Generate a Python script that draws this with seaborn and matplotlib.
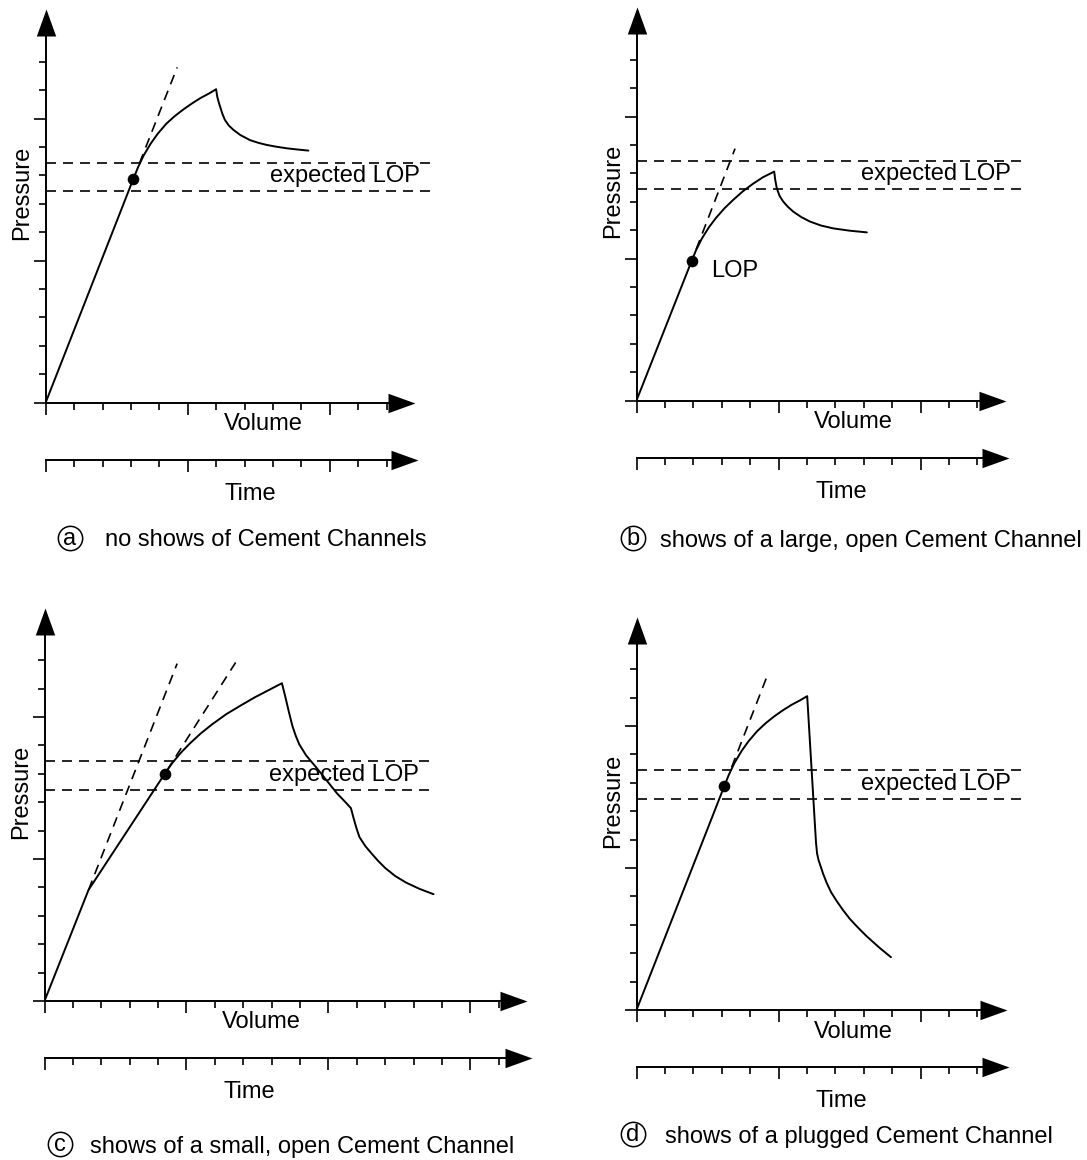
import numpy as np
import matplotlib
matplotlib.use("Agg")
import matplotlib.pyplot as plt
from matplotlib.lines import Line2D
import seaborn as sns

# ---------------------------------------------------------------------------
# Pressure-versus-volume curves (grid units: 1 unit = one tick step)
# ---------------------------------------------------------------------------
# (a) no shows of cement channels
A_CURVE_X = [0, 3.08, 3.25, 3.45, 3.7, 3.95, 4.25, 4.55, 4.85, 5.15, 5.45, 5.75, 6.0,
             6.04, 6.09, 6.14, 6.22, 6.31, 6.45, 6.61, 6.85, 7.19, 7.5, 7.78, 8.1, 8.49, 8.85, 9.25]
A_CURVE_Y = [0, 7.86, 8.28, 8.7, 9.12, 9.47, 9.82, 10.09, 10.32, 10.53, 10.72, 10.88, 11.03,
             10.77, 10.58, 10.42, 10.17, 9.95, 9.75, 9.6, 9.42, 9.24, 9.14, 9.07, 9.01, 8.95, 8.91, 8.87]
A_TANGENT_X = [3.3, 4.63]
A_TANGENT_Y = [8.42, 11.80]
A_LOP = [3.08, 7.86]

# (b) large, open cement channel
B_CURVE_X = [0, 1.94, 2.1, 2.3, 2.55, 2.8, 3.1, 3.4, 3.75, 4.1, 4.45, 4.85,
             4.88, 4.94, 5.04, 5.17, 5.33, 5.52, 5.8, 6.11, 6.5, 6.93, 7.5, 8.11]
B_CURVE_Y = [0, 4.91, 5.3, 5.7, 6.1, 6.43, 6.77, 7.06, 7.37, 7.63, 7.86, 8.06,
             7.8, 7.47, 7.2, 7.0, 6.82, 6.65, 6.46, 6.3, 6.16, 6.06, 5.98, 5.92]
B_TANGENT_X = [2.1, 3.47]
B_TANGENT_Y = [5.32, 8.87]
B_LOP = [1.94, 4.91]

# (c) small, open cement channel
C_CURVE_X = [0, 1.55, 4.24, 4.5, 4.8, 5.1, 5.5, 5.9, 6.4, 6.9, 7.4, 7.9, 8.36,
             8.42, 8.48, 8.6, 8.73, 8.85, 8.97, 9.21, 9.58, 9.94, 10.3, 10.55, 10.79,
             10.88, 10.98, 11.09, 11.3, 11.52, 11.75, 12.0, 12.35, 12.73, 13.2, 13.7]
C_CURVE_Y = [0, 3.91, 8.01, 8.38, 8.74, 9.05, 9.42, 9.74, 10.1, 10.4, 10.69, 10.95, 11.19,
             10.95, 10.71, 10.2, 9.68, 9.33, 9.04, 8.65, 8.21, 7.76, 7.31, 7.05, 6.79,
             6.45, 6.1, 5.77, 5.45, 5.19, 4.93, 4.68, 4.4, 4.17, 3.95, 3.76]
C_TANGENT1_X = [1.55, 4.67]
C_TANGENT1_Y = [3.91, 11.88]
C_TANGENT2_X = [4.3, 6.73]
C_TANGENT2_Y = [8.1, 11.92]
C_LOP = [4.24, 8.01]

# (d) plugged cement channel
D_CURVE_X = [0, 3.09, 3.25, 3.45, 3.7, 3.95, 4.25, 4.55, 4.85, 5.15, 5.45, 5.75, 6.01,
             6.32, 6.36, 6.41, 6.46, 6.57, 6.69, 6.85, 7.04, 7.27, 7.51, 7.8, 8.1, 8.57, 8.96]
D_CURVE_Y = [0, 7.88, 8.28, 8.7, 9.12, 9.47, 9.82, 10.1, 10.34, 10.55, 10.74, 10.9, 11.05,
             5.9, 5.5, 5.28, 5.13, 4.8, 4.49, 4.15, 3.85, 3.52, 3.21, 2.9, 2.6, 2.18, 1.86]
D_TANGENT_X = [3.35, 4.64]
D_TANGENT_Y = [8.55, 11.86]
D_LOP = [3.09, 7.88]

# expected leak-off pressure band (lower, upper) and its extent along volume
LOP_BAND = [7.44, 8.44]
LOP_BAND_X = [0, 13.55]

CAPTION_LETTERS = ["a", "b", "c", "d"]
CAPTION_TEXTS = [
    "no shows of Cement Channels",
    "shows of a large, open Cement Channel",
    "shows of a small, open Cement Channel",
    "shows of a plugged Cement Channel",
]
N_TICKS = [12, 12, 16, 12]

# ---------------------------------------------------------------------------
# Layout (pixels)
# ---------------------------------------------------------------------------
FIG_W, FIG_H, DPI = 1087, 1160, 100
UNIT = 28.4                      # pixels per grid unit
ORIGINS = [(45.7, 402.5), (636.5, 400.5), (44.5, 1001.0), (636.5, 1010.0)]
X_SPAN = [13.7, 13.7, 17.3, 13.7]
Y_SPAN = 14.0
Y_TIP = 13.85
VOL_TIP = [13.0, 13.0, 17.0, 13.03]
TIME_TIP = [13.1, 13.12, 17.15, 13.12]
TIME_GAP = 57.0                  # distance of time axis below volume axis
CIRCLES = [(70, 538), (633, 538), (60, 1144), (633, 1134)]
CAPTION_LEFT = [105, 660, 90, 665]

FS = 17
AXIS_LW = 1.4
CURVE_LW = 1.4
DASH_LW = 1.2
DASH = (0, (6.0, 4.2))
ARROW_MS = 2 * 27 * 72 / DPI
RIGHT_HEAD = np.array([(0, 0), (-2, 0.72), (-2, -0.72)])
UP_HEAD = np.array([(0, 0), (0.72, -2), (-0.72, -2)])

sns.set_theme(style="white", rc={
    "axes.edgecolor": "black",
    "xtick.color": "black",
    "ytick.color": "black",
    "text.color": "black",
    "axes.labelcolor": "black",
    "axes.linewidth": AXIS_LW,
})
plt.rcParams["font.family"] = ["Liberation Sans", "DejaVu Sans"]

PANELS = [
    dict(curve=(A_CURVE_X, A_CURVE_Y), tangents=[(A_TANGENT_X, A_TANGENT_Y)], lop=A_LOP, lop_text=False),
    dict(curve=(B_CURVE_X, B_CURVE_Y), tangents=[(B_TANGENT_X, B_TANGENT_Y)], lop=B_LOP, lop_text=True),
    dict(curve=(C_CURVE_X, C_CURVE_Y),
         tangents=[(C_TANGENT1_X, C_TANGENT1_Y), (C_TANGENT2_X, C_TANGENT2_Y)], lop=C_LOP, lop_text=False),
    dict(curve=(D_CURVE_X, D_CURVE_Y), tangents=[(D_TANGENT_X, D_TANGENT_Y)], lop=D_LOP, lop_text=False),
]

fig = plt.figure(figsize=(FIG_W / DPI, FIG_H / DPI), dpi=DPI)
fig.patch.set_facecolor("white")


def style_ticks(axis_obj, n, which_axis):
    major = list(range(0, n + 1, 5))
    minor = list(range(0, n + 1))
    if which_axis == "x":
        axis_obj.set_xticks(major)
        axis_obj.set_xticks(minor, minor=True)
    else:
        axis_obj.set_yticks(major)
        axis_obj.set_yticks(minor, minor=True)


for i, p in enumerate(PANELS):
    ox, oy = ORIGINS[i]
    w = X_SPAN[i]
    ax = fig.add_axes([ox / FIG_W, 1 - oy / FIG_H, w * UNIT / FIG_W, Y_SPAN * UNIT / FIG_H])
    ax.set_xlim(0, w)
    ax.set_ylim(0, Y_SPAN)
    ax.patch.set_alpha(0)

    # time axis drawn below the volume axis
    tax = ax.twiny()
    tax.set_xlim(0, w)
    for s in ["top", "left", "right"]:
        tax.spines[s].set_visible(False)
    tax.spines["bottom"].set_visible(True)
    tax.spines["bottom"].set_linewidth(AXIS_LW)
    tax.spines["bottom"].set_position(("outward", TIME_GAP * 72 / DPI))
    tax.spines["bottom"].set_bounds(0, TIME_TIP[i] - 0.3)
    tax.xaxis.set_ticks_position("bottom")
    style_ticks(tax, N_TICKS[i], "x")
    tax.tick_params(axis="x", which="both", bottom=True, top=False, direction="out",
                    width=1.2, labelbottom=False, labeltop=False)
    tax.tick_params(axis="x", which="major", length=8.9)
    tax.tick_params(axis="x", which="minor", length=4.7)

    # pressure / volume axes
    for s in ["top", "right"]:
        ax.spines[s].set_visible(False)
    ax.spines["bottom"].set_bounds(0, VOL_TIP[i] - 0.3)
    ax.spines["left"].set_bounds(0, Y_TIP - 0.3)
    style_ticks(ax, N_TICKS[i], "x")
    style_ticks(ax, 12, "y")
    ax.tick_params(axis="both", which="both", direction="out", width=1.2,
                   bottom=True, left=True, top=False, right=False,
                   labelbottom=False, labelleft=False)
    ax.tick_params(axis="both", which="major", length=8.9)
    ax.tick_params(axis="both", which="minor", length=4.7)

    # arrow heads
    head = dict(color="black", mew=0, clip_on=False, linestyle="none")
    ax.plot([VOL_TIP[i]], [0], marker=RIGHT_HEAD, ms=ARROW_MS, **head)
    ax.plot([0], [Y_TIP], marker=UP_HEAD, ms=ARROW_MS, **head)
    ax.plot([TIME_TIP[i]], [-TIME_GAP / (Y_SPAN * UNIT)], marker=RIGHT_HEAD, ms=ARROW_MS,
            transform=ax.get_xaxis_transform(), **head)

    # expected LOP band
    for level in LOP_BAND:
        sns.lineplot(x=LOP_BAND_X, y=[level, level], ax=ax, color="black", lw=DASH_LW,
                     linestyle=DASH, sort=False, estimator=None)

    # tangent extensions
    for tx, ty in p["tangents"]:
        sns.lineplot(x=tx, y=ty, ax=ax, color="black", lw=DASH_LW, linestyle=DASH,
                     sort=False, estimator=None)

    # pressure curve
    cx, cy = p["curve"]
    sns.lineplot(x=cx, y=cy, ax=ax, color="black", lw=CURVE_LW, sort=False, estimator=None)

    # leak-off point
    sns.scatterplot(x=[p["lop"][0]], y=[p["lop"][1]], ax=ax, s=70, color="black",
                    edgecolor="black", linewidth=0, zorder=5)

    # labels
    ax.text(7.9, 7.75, "expected LOP", fontsize=FS, ha="left", va="baseline")
    if p["lop_text"]:
        ax.text(2.64, 4.34, "LOP", fontsize=FS, ha="left", va="baseline")
    ax.text(7.65, -27.5 / UNIT, "Volume", fontsize=FS, ha="center", va="baseline")
    ax.text(7.2, -97.0 / UNIT, "Time", fontsize=FS, ha="center", va="baseline")
    ax.text(-17.4 / UNIT, 7.38, "Pressure", fontsize=FS, rotation=90, rotation_mode="anchor",
            ha="center", va="baseline")

    # caption with circled letter
    cxp, cyp = CIRCLES[i]
    fig.add_artist(Line2D([cxp / FIG_W], [1 - cyp / FIG_H], marker="o", ms=17.5,
                          mfc="none", mec="black", mew=1.1, transform=fig.transFigure))
    fig.text(cxp / FIG_W, 1 - (cyp + 7.0) / FIG_H, CAPTION_LETTERS[i], fontsize=FS,
             ha="center", va="baseline")
    fig.text(CAPTION_LEFT[i] / FIG_W, 1 - (cyp + 8.5) / FIG_H, CAPTION_TEXTS[i], fontsize=FS,
             ha="left", va="baseline")

fig.savefig("out.png", dpi=DPI, facecolor="white")
